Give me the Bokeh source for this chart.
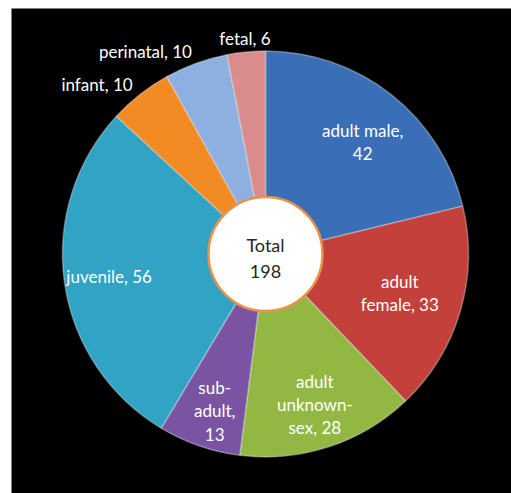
import numpy as np
from bokeh.plotting import figure
from bokeh.models import Range1d, ColumnDataSource
from bokeh.core.properties import value
from bokeh.embed import file_html
from bokeh.resources import INLINE

# ---- data ----
categories = ["adult male", "adult female", "adult unknown-sex", "sub-adult",
              "juvenile", "infant", "perinatal", "fetal"]
counts = [42, 33, 28, 13, 56, 10, 10, 6]
label_text = ["adult male,\n42", "adult\nfemale, 33", "adult\nunknown-\nsex, 28",
              "sub-\nadult,\n13", "juvenile, 56", "infant, 10", "perinatal, 10", "fetal, 6"]
total_label = "Total\n" + str(sum(counts))

# ---- styles ----
colors = ["#3A6FB7", "#C3403B", "#92B843", "#7B53A3",
          "#31A3C5", "#F28B23", "#8DB0E0", "#D98C8B"]
label_r = [148, 140, 158, 165, 158, 215, 215, 216]
label_dang = [-0.05, 0, 0, 0.02, 0, 0, 0, 0]
label_align = ["center", "center", "center", "center", "center", "right", "right", "center"]

W, H = 511, 493
cx, cy, R = 265, 239.5, 203
hole_r = 57

vals = np.array(counts, dtype=float)
tot = vals.sum()
cum = np.concatenate([[0], np.cumsum(vals)])
end_ang = np.pi / 2 - cum[:-1] / tot * 2 * np.pi
start_ang = np.pi / 2 - cum[1:] / tot * 2 * np.pi
mid = (start_ang + end_ang) / 2 + np.array(label_dang)

src = ColumnDataSource(dict(
    x=[cx] * len(vals), y=[cy] * len(vals),
    start=start_ang, end=end_ang, color=colors, cat=categories,
))

lx = cx + np.array(label_r) * np.cos(mid)
ly = cy + np.array(label_r) * np.sin(mid)
lsrc = ColumnDataSource(dict(x=lx, y=ly, text=label_text, align=label_align))

p = figure(width=W, height=H, output_backend="svg", toolbar_location=None,
           x_range=Range1d(11, W), y_range=Range1d(0, H - 8),
           min_border_left=11, min_border_top=8, min_border_right=0, min_border_bottom=0)
p.border_fill_color = "white"
p.background_fill_color = "black"
p.outline_line_color = None
p.axis.visible = False
p.grid.visible = False

p.wedge(x="x", y="y", radius=R, start_angle="start", end_angle="end",
        fill_color="color", line_color="white", line_alpha=0.35, line_width=1.5,
        source=src)

p.circle(x=[cx], y=[cy], radius=hole_r, fill_color="white",
         line_color="#E9924A", line_width=2.5)

p.text(x="x", y="y", text="text", text_align="align", text_baseline="middle",
       text_color="white", text_font=value("Lato"), text_font_size="17px",
       text_line_height=1.1, source=lsrc)

p.text(x=[cx], y=[cy - 4], text=[total_label], text_align="center", text_baseline="middle",
       text_color="#262626", text_font=value("Lato"), text_font_size="18px",
       text_line_height=1.15)

open("out.html", "w").write(file_html(p, INLINE))
